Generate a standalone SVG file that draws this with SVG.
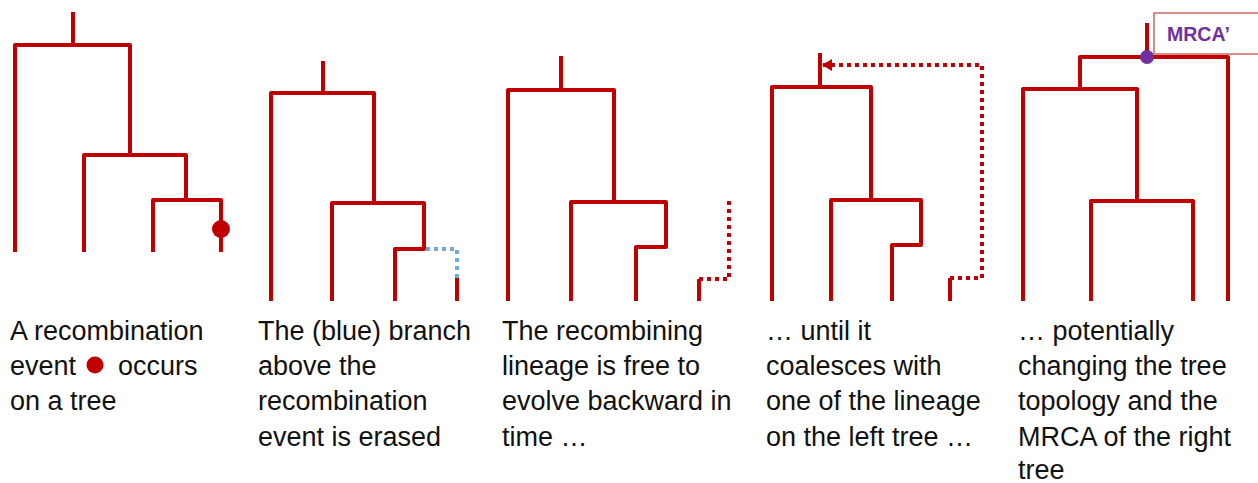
<svg xmlns="http://www.w3.org/2000/svg" width="1258" height="483" viewBox="0 0 1258 483">
  <style>
    .br { fill: none; stroke: #c00000; stroke-width: 4; stroke-linejoin: round; }
    .dot-red { fill: none; stroke: #c00000; stroke-width: 4; stroke-dasharray: 4 4; }
    .dot-blue { fill: none; stroke: #6fa8dc; stroke-width: 4; stroke-dasharray: 4 4; }
    .cap { font-family: "Liberation Sans", Arial, sans-serif; font-size: 27px; fill: #111; }
    .mrca { font-family: "Liberation Sans", Arial, sans-serif; font-size: 19.5px; font-weight: bold; fill: #7030a0; }
  </style>
  <defs>
    <marker id="arrow" viewBox="0 0 10 12" refX="10" refY="6" markerWidth="10" markerHeight="12" markerUnits="userSpaceOnUse" orient="auto">
      <path d="M0,0 L10,6 L0,12 Z" fill="#c00000"/>
    </marker>
  </defs>

  <!-- Tree 1: recombination event on a branch -->
  <g id="tree1">
    <path class="br" d="M73,12 V45 M15,252 V45 H130 V155 M84,252 V155 H186 V200 M153,252 V200 H221 V252"/>
    <circle cx="221" cy="229" r="9" fill="#c00000"/>
  </g>

  <!-- Tree 2: branch above the event erased -->
  <g id="tree2">
    <path class="br" d="M323,61 V93 M271,301 V93 H374 V203 M332,301 V203 H424 V249 H395 V301"/>
    <path class="br" d="M457,278 V301"/>
  </g>

  <!-- Tree 3: floating lineage -->
  <g id="tree3">
    <path class="br" d="M561,56 V90 M508,301 V90 H614 V202 M571,301 V202 H666 V247 H636 V301"/>
    <path class="br" d="M699,279 V301"/>
  </g>

  <!-- Tree 4: lineage coalesces higher up -->
  <g id="tree4">
    <path class="br" d="M820,53 V87 M772,301 V87 H871 V200 M831,301 V200 H921 V245 H892 V301"/>
    <path class="br" d="M950,278 V301"/>
  </g>

  <!-- Tree 5: new topology with new MRCA -->
  <g id="tree5">
    <path class="br" d="M1147,23 V57 M1228,301 V57 H1080 V89 M1023,301 V89 H1137 V201 M1091,301 V201 H1193 V301"/>
    <circle cx="1147" cy="57" r="7" fill="#7030a0"/>
  </g>

  <g id="mrca-label">
    <rect x="1154" y="13" width="110" height="41" fill="#fff" stroke="#c0504d" stroke-width="1.3"/>
    <text class="mrca" x="1167" y="41">MRCA’</text>
  </g>

  <!-- Dotted connectors -->
  <g id="connectors">
    <path class="dot-blue" d="M426,249 H457 V278"/>
    <path class="dot-red" d="M699,279 H729 V199"/>
    <path class="dot-red" d="M950,278 H982 V65 H822" marker-end="url(#arrow)"/>
  </g>

  <!-- Captions -->
  <g id="captions">
    <text class="cap" x="10" y="340">A recombination</text>
    <text class="cap" x="10" y="375">event</text>
    <ellipse cx="95" cy="365" rx="8.5" ry="8.5" fill="#c00000"/>
    <text class="cap" x="118" y="375">occurs</text>
    <text class="cap" x="10" y="410">on a tree</text>

    <text class="cap" x="258" y="340">The (blue) branch</text>
    <text class="cap" x="258" y="375">above the</text>
    <text class="cap" x="258" y="410">recombination</text>
    <text class="cap" x="258" y="446">event is erased</text>

    <text class="cap" x="502" y="340">The recombining</text>
    <text class="cap" x="502" y="375">lineage is free to</text>
    <text class="cap" x="502" y="410">evolve backward in</text>
    <text class="cap" x="502" y="446">time …</text>

    <text class="cap" x="766" y="340">… until it</text>
    <text class="cap" x="766" y="375">coalesces with</text>
    <text class="cap" x="766" y="410">one of the lineage</text>
    <text class="cap" x="766" y="446">on the left tree …</text>

    <text class="cap" x="1018" y="340">… potentially</text>
    <text class="cap" x="1018" y="375">changing the tree</text>
    <text class="cap" x="1018" y="410">topology and the</text>
    <text class="cap" x="1018" y="446">MRCA of the right</text>
    <text class="cap" x="1018" y="479">tree</text>
  </g>
</svg>
